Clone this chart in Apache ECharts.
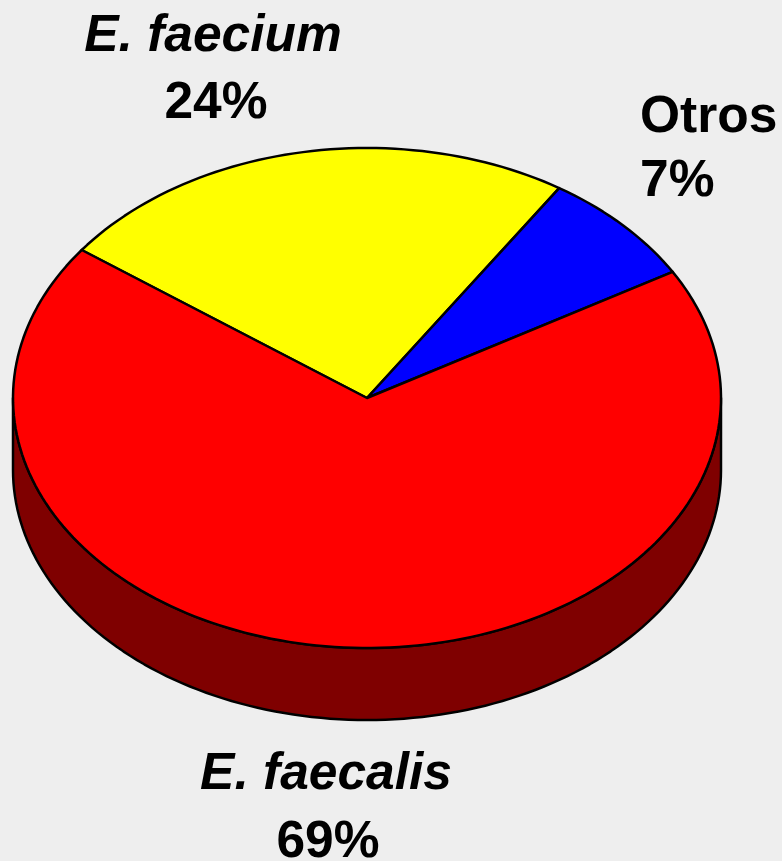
<!DOCTYPE html>
<html>
<head>
<meta charset="utf-8">
<script src="https://cdn.jsdelivr.net/npm/echarts@6/dist/echarts.min.js"></script>
<style>
  html, body { margin: 0; padding: 0; background: #eeeeee; }
  #main { width: 782px; height: 861px; }
</style>
</head>
<body>
<div id="main"></div>
<script>
const species = ["E. faecium", "Otros", "E. faecalis"];
// shares, labels print them rounded
const percents = [24.05, 7.45, 68.5];
const sliceColors = ["#ffff00", "#0000ff", "#ff0000"];
const wallColors = ["#808000", "#000080", "#7f0000"];

// ellipse of the tilted pie
const cx = 367, cy = 398, rx = 354, ry = 250, depth = 72;
const startAngle = -53.7; // degrees, 0 = top, clockwise
const edgeWidth = 2.5;

const total = percents.reduce((a, b) => a + b, 0);

function sliceRange(i) {
  let from = startAngle;
  for (let k = 0; k < i; k++) from += (percents[k] / total) * 360;
  return [from, from + (percents[i] / total) * 360];
}

function rimPoint(deg, dy) {
  const r = (deg * Math.PI) / 180;
  return [cx + rx * Math.sin(r), cy + dy - ry * Math.cos(r)];
}

function arc(from, to, dy) {
  const pts = [];
  const n = Math.max(2, Math.ceil((to - from) / 1.5));
  for (let i = 0; i <= n; i++) pts.push(rimPoint(from + ((to - from) * i) / n, dy));
  return pts;
}

function renderWall(params, api) {
  const i = params.dataIndex;
  const range = sliceRange(api.value(0));
  // only the front half of the rim is visible
  const from = Math.max(range[0], 90);
  const to = Math.min(range[1], 270);
  if (to <= from) return null;
  const pts = arc(from, to, 0).concat(arc(from, to, depth).reverse());
  return {
    type: "polygon",
    shape: { points: pts },
    style: { fill: wallColors[i], stroke: "#000", lineWidth: edgeWidth, lineJoin: "round" },
  };
}

function renderSlice(params, api) {
  const i = params.dataIndex;
  const range = sliceRange(api.value(0));
  const pts = [[cx, cy]].concat(arc(range[0], range[1], 0));
  return {
    type: "polygon",
    shape: { points: pts },
    style: { fill: sliceColors[i], stroke: "#000", lineWidth: edgeWidth, lineJoin: "round" },
  };
}

// label anchors: [name x, name y, percent x, percent y, align]
const labelLayout = [
  [213, 37, 216, 104, "center"],
  [640, 118, 640, 182, "left"],
  [326, 775, 328, 843, "center"],
];

function renderLabel(params, api) {
  const i = params.dataIndex;
  const p = labelLayout[i];
  const font = { fontFamily: "Liberation Sans", fontSize: 51.5, fontWeight: "bold" };
  return {
    type: "group",
    children: [
      {
        type: "text",
        style: Object.assign({}, font, {
          x: p[0], y: p[1], text: species[i], fill: "#000",
          align: p[4], verticalAlign: "middle",
          fontStyle: species[i].indexOf("E.") === 0 ? "italic" : "normal",
        }),
      },
      {
        type: "text",
        style: Object.assign({}, font, {
          x: p[2], y: p[3], text: Math.round(percents[i]) + "%", fill: "#000",
          align: p[4], verticalAlign: "middle",
        }),
      },
    ],
  };
}

const indexData = percents.map((v, i) => [i, v]);

const chart = echarts.init(document.getElementById("main"), null, { renderer: "canvas" });
chart.setOption({
  backgroundColor: "#eeeeee",
  animation: false,
  series: [
    { type: "custom", coordinateSystem: "none", silent: true, z: 1, data: indexData, renderItem: renderWall },
    { type: "custom", coordinateSystem: "none", silent: true, z: 2, data: indexData, renderItem: renderSlice },
    { type: "custom", coordinateSystem: "none", silent: true, z: 3, data: indexData, renderItem: renderLabel },
  ],
});
</script>
</body>
</html>
